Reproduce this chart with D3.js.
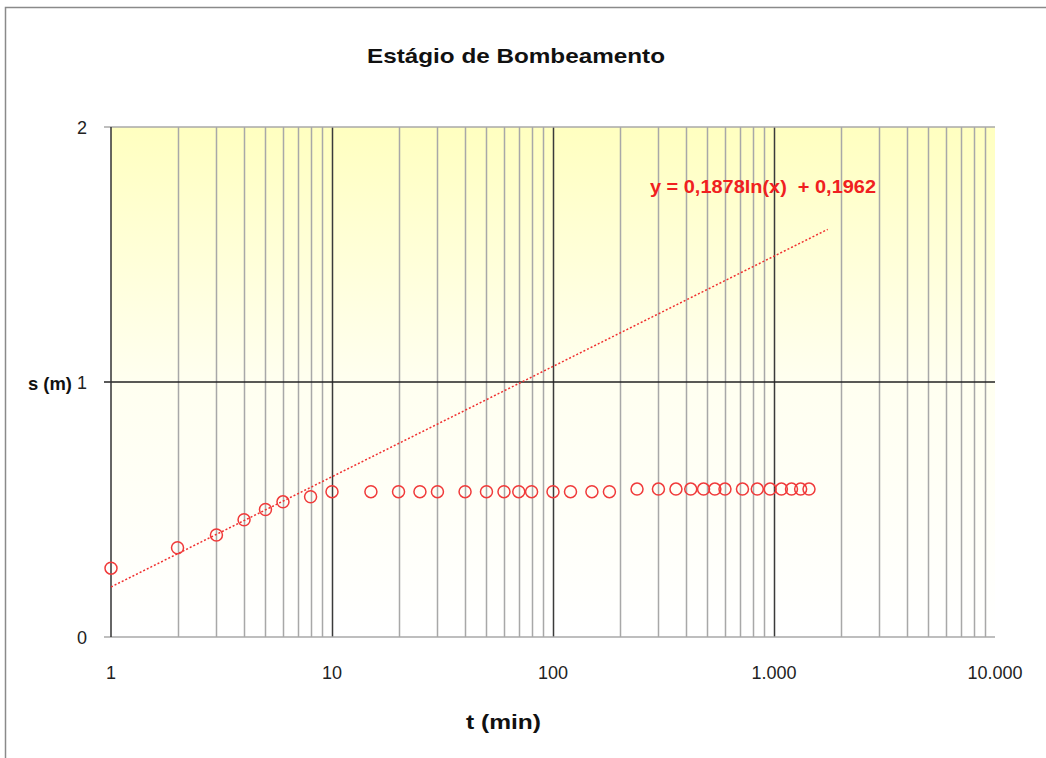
<!DOCTYPE html>
<html>
<head>
<meta charset="utf-8">
<script src="https://cdn.jsdelivr.net/npm/d3@7"></script>
<style>
  body { margin: 0; background: #fff; }
  svg { display: block; font-family: "Liberation Sans", Arial, sans-serif; }
</style>
</head>
<body>
<div id="chart"></div>
<script>
// pumping stage data: t (min) vs drawdown s (m)
var times = [1, 2, 3, 4, 5, 6, 8, 10, 15, 20, 25, 30, 40, 50, 60, 70, 80, 100, 120, 150, 180,
	240, 300, 360, 420, 480, 540, 600, 720, 840, 960, 1080, 1200, 1320, 1440];
var drawdown = [0.27, 0.35, 0.40, 0.46, 0.50, 0.53, 0.55, 0.57, 0.57, 0.57, 0.57, 0.57, 0.57, 0.57, 0.57, 0.57, 0.57, 0.57, 0.57, 0.57, 0.57,
	0.58, 0.58, 0.58, 0.58, 0.58, 0.58, 0.58, 0.58, 0.58, 0.58, 0.58, 0.58, 0.58, 0.58];
var xTicks = [1, 10, 100, 1000, 10000];
var yTicks = [0, 1, 2];
var trendCoef = [0.1878, 0.1962];   // y = a ln(x) + b
var trendRange = [1, 1750];
var title = 'Estágio de Bombeamento';
var trendLabel = 'y = 0,1878ln(x)  + 0,1962';

var width = 1046, height = 758;
var margin = { left: 111, right: 51, top: 127, bottom: 121 };

var ptBR = d3.formatLocale({ decimal: ',', thousands: '.', grouping: [3], currency: ['R$', ''] });
var fmt = ptBR.format(',d');

var svg = d3.select('#chart').append('svg')
	.attr('width', width)
	.attr('height', height);

// outer frame (left + top only visible)
svg.append('path')
	.attr('d', 'M5.5,758 V7.5 H1046')
	.style('fill', 'none')
	.style('stroke', '#8a8a8a')
	.style('stroke-width', 1.5);

var x = d3.scaleLog()
	.domain([1, 10000])
	.range([margin.left, width - margin.right]);

var y = d3.scaleLinear()
	.domain([0, 2])
	.range([height - margin.bottom, margin.top]);

var defs = svg.append('defs');
var grad = defs.append('linearGradient')
	.attr('id', 'bg')
	.attr('x1', 0).attr('y1', 0)
	.attr('x2', 0).attr('y2', 1);
grad.append('stop').attr('offset', '0%').attr('stop-color', '#ffffc0');
grad.append('stop').attr('offset', '50%').attr('stop-color', '#fffff0');
grad.append('stop').attr('offset', '100%').attr('stop-color', '#ffffff');

var plot = svg.append('g');

plot.append('rect')
	.attr('x', x(1))
	.attr('y', y(2))
	.attr('width', x(10000) - x(1))
	.attr('height', y(0) - y(2))
	.style('fill', 'url(#bg)');

// vertical grid: minor lines gray, decade lines dark
var minor = [];
[1, 10, 100, 1000].forEach(function(d) {
	for (var k = 2; k <= 9; k++) minor.push(d * k);
});

plot.selectAll('line.minor')
	.data(minor)
	.enter().append('line')
	.attr('class', 'minor')
	.attr('x1', function(d) { return Math.round(x(d)) + 0.5; })
	.attr('x2', function(d) { return Math.round(x(d)) + 0.5; })
	.attr('y1', y(2))
	.attr('y2', y(0))
	.style('stroke', '#a8a8a8')
	.style('stroke-width', 1.5);

plot.selectAll('line.major')
	.data(xTicks.slice(1, 4))
	.enter().append('line')
	.attr('class', 'major')
	.attr('x1', function(d) { return Math.round(x(d)) + 0.5; })
	.attr('x2', function(d) { return Math.round(x(d)) + 0.5; })
	.attr('y1', y(2))
	.attr('y2', y(0))
	.style('stroke', '#3a3a3a')
	.style('stroke-width', 1.5);

// horizontal grid at y = 1
plot.append('line')
	.attr('x1', x(1) - 7).attr('x2', x(10000))
	.attr('y1', y(1)).attr('y2', y(1))
	.style('stroke', '#222')
	.style('stroke-width', 1.5);

// top and bottom borders
plot.append('line')
	.attr('x1', x(1) - 7).attr('x2', x(10000))
	.attr('y1', y(2)).attr('y2', y(2))
	.style('stroke', '#a8a8a8')
	.style('stroke-width', 1.5);
plot.append('line')
	.attr('x1', x(1) - 7).attr('x2', x(10000))
	.attr('y1', y(0)).attr('y2', y(0))
	.style('stroke', '#a8a8a8')
	.style('stroke-width', 1.5);

// left axis line
plot.append('line')
	.attr('x1', x(1)).attr('x2', x(1))
	.attr('y1', y(2)).attr('y2', y(0))
	.style('stroke', '#333')
	.style('stroke-width', 1.5);

// y tick labels
svg.selectAll('text.ytick')
	.data(yTicks)
	.enter().append('text')
	.attr('class', 'ytick')
	.attr('x', 87)
	.attr('y', function(d) { return y(d) + 7; })
	.attr('text-anchor', 'end')
	.style('font-size', '18px')
	.style('fill', '#222')
	.text(function(d) { return d; });

// x tick labels
svg.selectAll('text.xtick')
	.data(xTicks)
	.enter().append('text')
	.attr('class', 'xtick')
	.attr('x', function(d) { return x(d); })
	.attr('y', 679)
	.attr('text-anchor', 'middle')
	.style('font-size', '18px')
	.style('fill', '#222')
	.text(function(d) { return fmt(d); });

// trendline (straight on log-x)
var trendLine = d3.line()
	.x(function(d) { return x(d); })
	.y(function(d) { return y(trendCoef[0] * Math.log(d) + trendCoef[1]); });

plot.append('path')
	.datum(trendRange)
	.attr('d', trendLine)
	.style('fill', 'none')
	.style('stroke', '#f03030')
	.style('stroke-width', 1.5)
	.style('stroke-dasharray', '2 2');

// observed points
plot.selectAll('circle')
	.data(times)
	.enter().append('circle')
	.attr('cx', function(d) { return x(d); })
	.attr('cy', function(d, i) { return y(drawdown[i]); })
	.attr('r', 6)
	.style('fill', 'none')
	.style('stroke', '#f03a3a')
	.style('stroke-width', 1.5);

// texts
svg.append('text')
	.attr('x', 367)
	.attr('y', 63)
	.attr('textLength', 298)
	.attr('lengthAdjust', 'spacingAndGlyphs')
	.style('font-size', '21px')
	.style('font-weight', 'bold')
	.style('fill', '#111')
	.text(title);

svg.append('text')
	.attr('x', 28)
	.attr('y', 390)
	.attr('textLength', 44)
	.attr('lengthAdjust', 'spacingAndGlyphs')
	.style('font-size', '19px')
	.style('font-weight', 'bold')
	.style('fill', '#111')
	.text('s (m)');

svg.append('text')
	.attr('x', 466)
	.attr('y', 729)
	.attr('textLength', 75)
	.attr('lengthAdjust', 'spacingAndGlyphs')
	.style('font-size', '20px')
	.style('font-weight', 'bold')
	.style('fill', '#111')
	.text('t (min)');

svg.append('text')
	.attr('x', 650)
	.attr('y', 193)
	.attr('textLength', 226)
	.attr('lengthAdjust', 'spacingAndGlyphs')
	.style('font-size', '18px')
	.style('font-weight', 'bold')
	.style('fill', '#f02020')
	.style('white-space', 'pre')
	.text(trendLabel);
</script>
</body>
</html>
